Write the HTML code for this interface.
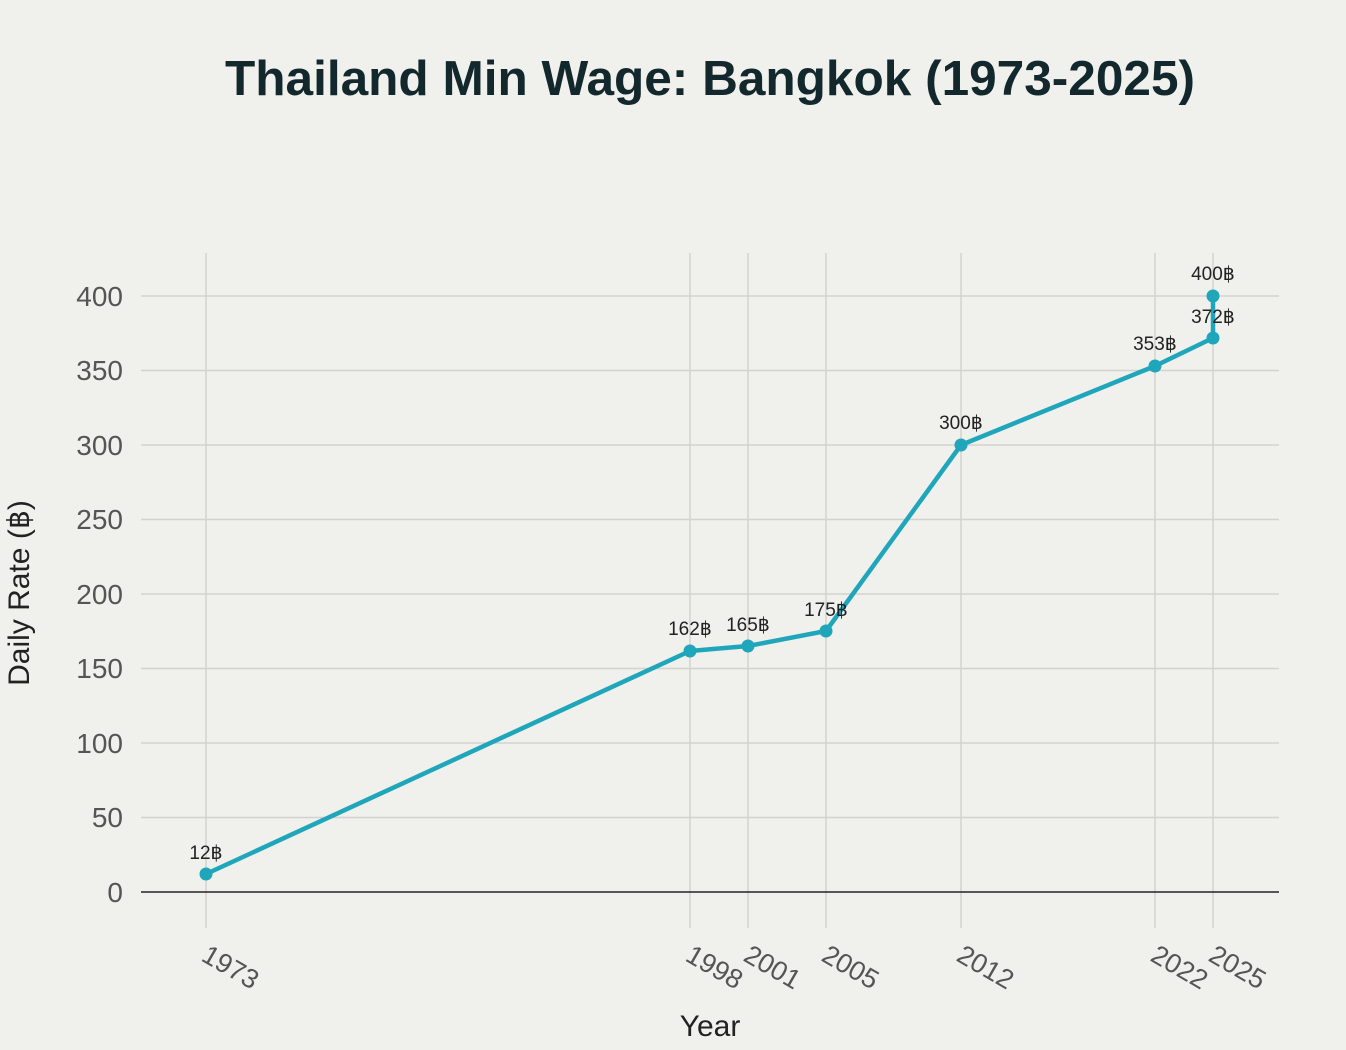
<!DOCTYPE html>
<html><head><meta charset="utf-8"><style>
html,body{margin:0;padding:0;background:#f0f0ec;}
svg{display:block;font-family:"Liberation Sans",sans-serif;}
</style></head><body>
<svg width="1346" height="1050" viewBox="0 0 1346 1050">
<rect width="1346" height="1050" fill="#f0f0ec"/>
<text x="710" y="95" text-anchor="middle" font-size="49" font-weight="bold" fill="#13282c" textLength="970" lengthAdjust="spacingAndGlyphs">Thailand Min Wage: Bangkok (1973-2025)</text>
<g stroke="#d2d2d0" stroke-width="1.5">
<line x1="141" x2="1279" y1="296" y2="296"/>
<line x1="141" x2="1279" y1="370.5" y2="370.5"/>
<line x1="141" x2="1279" y1="445" y2="445"/>
<line x1="141" x2="1279" y1="519.5" y2="519.5"/>
<line x1="141" x2="1279" y1="594" y2="594"/>
<line x1="141" x2="1279" y1="668.5" y2="668.5"/>
<line x1="141" x2="1279" y1="743" y2="743"/>
<line x1="141" x2="1279" y1="817.5" y2="817.5"/>
<line x1="206" x2="206" y1="253" y2="928"/>
<line x1="690" x2="690" y1="253" y2="928"/>
<line x1="748" x2="748" y1="253" y2="928"/>
<line x1="826" x2="826" y1="253" y2="928"/>
<line x1="961" x2="961" y1="253" y2="928"/>
<line x1="1155" x2="1155" y1="253" y2="928"/>
<line x1="1213" x2="1213" y1="253" y2="928"/>
</g>
<line x1="141" x2="1279" y1="892" y2="892" stroke="#222" stroke-width="1.5"/>
<g font-size="28" fill="#555" text-anchor="end">
<text x="123" y="306">400</text><text x="123" y="380">350</text><text x="123" y="455">300</text>
<text x="123" y="529">250</text><text x="123" y="604">200</text><text x="123" y="678">150</text>
<text x="123" y="753">100</text><text x="123" y="827">50</text><text x="123" y="902">0</text>
</g>
<text transform="translate(29,593) rotate(-90)" text-anchor="middle" font-size="30" fill="#222">Daily Rate (฿)</text>
<text x="710" y="1036" text-anchor="middle" font-size="30" fill="#222">Year</text>
<g font-size="27" fill="#555">
<text transform="translate(200,960) rotate(30)">1973</text>
<text transform="translate(684,960) rotate(30)">1998</text>
<text transform="translate(742,960) rotate(30)">2001</text>
<text transform="translate(820,960) rotate(30)">2005</text>
<text transform="translate(955,960) rotate(30)">2012</text>
<text transform="translate(1149,960) rotate(30)">2022</text>
<text transform="translate(1207,960) rotate(30)">2025</text>
</g>
<polyline fill="none" stroke="#20a6ba" stroke-width="4.5" stroke-linejoin="round" points="206,874 690,651 748,646 826,631 961,445 1155,366 1213,338 1213,296"/>
<g fill="#20a6ba">
<circle cx="206" cy="874" r="6.5"/><circle cx="690" cy="651" r="6.5"/><circle cx="748" cy="646" r="6.5"/>
<circle cx="826" cy="631" r="6.5"/><circle cx="961" cy="445" r="6.5"/><circle cx="1155" cy="366" r="6.5"/>
<circle cx="1213" cy="338" r="6.5"/><circle cx="1213" cy="296" r="6.5"/>
</g>
<g font-size="19" fill="#222" text-anchor="middle">
<text x="206" y="859">12฿</text><text x="690" y="635">162฿</text><text x="748" y="631">165฿</text>
<text x="826" y="616">175฿</text><text x="961" y="429">300฿</text><text x="1155" y="350">353฿</text>
<text x="1213" y="323">372฿</text><text x="1213" y="280">400฿</text>
</g>
</svg>
</body></html>
